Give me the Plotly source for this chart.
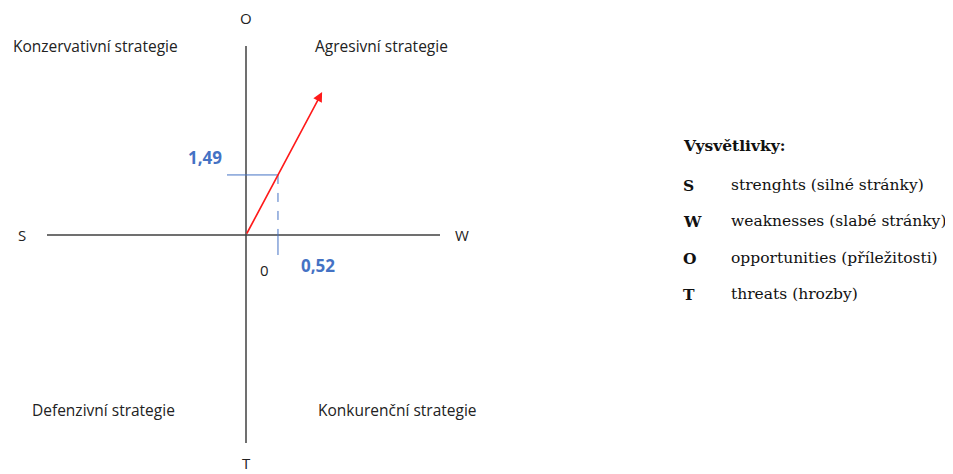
import plotly.graph_objects as go

# ---- data ----
point_x = [0.52]          # W/S axis result
point_y = [1.49]          # O/T axis result
point_x_label = ["0,52"]
point_y_label = ["1,49"]
axis_labels = ["O", "T", "S", "W"]
quadrant_labels = ["Konzervativní strategie", "Agresivní strategie",
                   "Defenzivní strategie", "Konkurenční strategie"]
legend_title = "Vysvětlivky:"
legend_keys = ["S", "W", "O", "T"]
legend_texts = ["strenghts (silné stránky)", "weaknesses (slabé stránky)",
                "opportunities (příležitosti)", "threats (hrozby)"]

W, H = 953, 474
PAD = 8                     # default page body margin
OX, OY = 246, 235           # origin pixel (screen)
SX, SY = 61.5, 40.3         # px per unit

def px(x):  # screen pixel x -> data
    return (x - OX) / SX
def py(y):  # screen pixel y -> data
    return (OY - y) / SY

fig = go.Figure()
fig.add_trace(go.Scatter(x=point_x, y=point_y, mode="markers",
                         marker=dict(size=1, color="rgba(0,0,0,0)"),
                         hoverinfo="skip", showlegend=False))

axis_col = "#404040"
blue = "#4472C4"
shapes = [
    dict(type="line", x0=px(47), x1=px(440), y0=0, y1=0, line=dict(color=axis_col, width=1.5)),
    dict(type="line", x0=0, x1=0, y0=py(46), y1=py(443), line=dict(color=axis_col, width=1.5)),
]
xv, yv = point_x[0], point_y[0]
shapes.append(dict(type="line", x0=px(227), x1=px(270), y0=yv, y1=yv, line=dict(color=blue, width=1)))
shapes.append(dict(type="line", x0=px(270), x1=xv, y0=yv, y1=yv, line=dict(color=blue, width=1, dash="dash")))
shapes.append(dict(type="line", x0=xv, x1=xv, y0=yv, y1=0, line=dict(color=blue, width=1, dash="dash")))
shapes.append(dict(type="line", x0=xv, x1=xv, y0=0, y1=py(255), line=dict(color=blue, width=1)))

annotations = []
k = 2.38
annotations.append(dict(x=xv * k, y=yv * k, ax=0, ay=0, xref="x", yref="y", axref="x", ayref="y",
                        showarrow=True, arrowhead=2, arrowsize=1.2, arrowwidth=1.6,
                        arrowcolor="#FF1A1A", text=""))

sans = "Open Sans, sans-serif"
serif = "DejaVu Serif, serif"

def label(x, y, t, size=15.5, color="#222", fam=sans, xanchor="center", bold=False):
    annotations.append(dict(x=x, y=y, xref="x", yref="y", text=("<b>%s</b>" % t) if bold else t,
                            showarrow=False, xanchor=xanchor, yanchor="middle",
                            font=dict(family=fam, size=size, color=color)))

label(0, py(18), axis_labels[0], size=15)
label(0, py(463), axis_labels[1], size=15)
label(px(22), 0, axis_labels[2], size=15)
label(px(462), 0, axis_labels[3], size=15)
label(px(264), py(270), "0", size=15)

label(px(95), py(46), quadrant_labels[0])
label(px(381), py(46), quadrant_labels[1])
label(px(103), py(410), quadrant_labels[2])
label(px(397), py(410), quadrant_labels[3])

label(px(205), py(157), point_y_label[0], size=17, color=blue, bold=True)
label(px(318), py(265), point_x_label[0], size=17, color=blue, bold=True)

label(px(681), py(145), legend_title, size=15.5, color="#111", fam=serif, xanchor="left", bold=True)
rows = [185, 221, 258, 294]
for key, txt, r in zip(legend_keys, legend_texts, rows):
    label(px(681), py(r), key, size=15.5, color="#111", fam=serif, xanchor="left", bold=True)
    label(px(729), py(r), txt, size=15.5, color="#111", fam=serif, xanchor="left")

fig.update_layout(
    width=W - PAD, height=H - PAD, margin=dict(l=0, r=0, t=0, b=0),
    paper_bgcolor="white", plot_bgcolor="white",
    xaxis=dict(range=[px(PAD), px(W)], visible=False, fixedrange=True),
    yaxis=dict(range=[py(H), py(PAD)], visible=False, fixedrange=True),
    shapes=shapes, annotations=annotations, showlegend=False,
)
fig.write_html("out.html")
